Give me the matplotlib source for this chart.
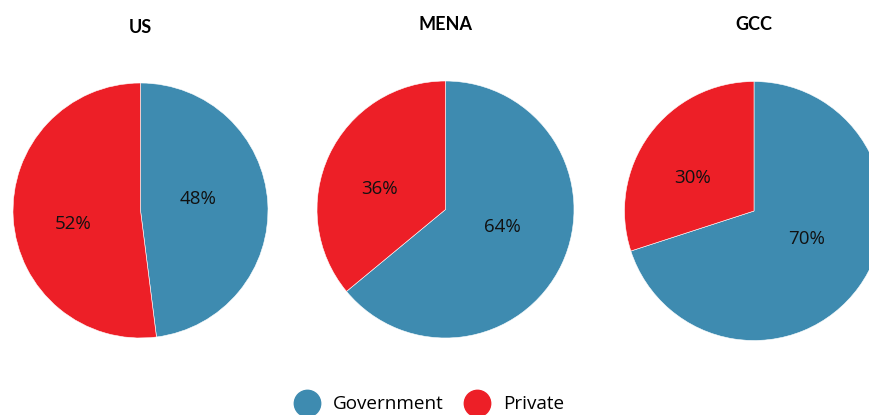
import numpy as np
import matplotlib.pyplot as plt
from matplotlib.lines import Line2D

regions = ['US', 'MENA', 'GCC']
government = [48, 64, 70]
private = [52, 36, 30]
labels = ['Government', 'Private']
colors = ['#3e8bb0', '#ed1f27']

# pie centres / radii in pixel units (y measured from top)
centers = [(140.5, 210.5), (445.5, 209.5), (754.0, 211.0)]
radii = [127.5, 128.5, 129.5]
title_y = [28, 25, 25]
label_dist = [0.46, 0.54]   # per series, fraction of radius
label_shift = 8.0           # degrees, labels sit a bit counter-clockwise of the wedge middle

W, H = 870, 415
fig = plt.figure(figsize=(W / 100, H / 100), dpi=100)
ax = fig.add_axes([0, 0, 1, 1])

for name, g, p, (cx, cy), r, ty in zip(regions, government, private, centers, radii, title_y):
    vals = [g, p]
    wedges, _ = ax.pie(vals, colors=colors, startangle=90, counterclock=False,
                       center=(cx, H - cy), radius=r, frame=False,
                       wedgeprops=dict(edgecolor='white', linewidth=0.4))
    for w, v, d in zip(wedges, vals, label_dist):
        ang = np.deg2rad((w.theta1 + w.theta2) / 2 + label_shift)
        ax.text(cx + d * r * np.cos(ang), H - cy + d * r * np.sin(ang), '%d%%' % v,
                ha='center', va='center', fontsize=13.5, family='Open Sans',
                color='#111111')
    ax.text(cx, H - ty, name, ha='center', va='center', fontsize=13,
            fontweight='bold', family='Lato')

ax.set_xlim(0, W)
ax.set_ylim(0, H)
ax.set_aspect('auto')
ax.axis('off')

handles = [Line2D([], [], marker='o', linestyle='', markersize=19,
                  markerfacecolor=c, markeredgecolor=c) for c in colors]
fig.legend(handles, labels, loc='center', bbox_to_anchor=(0.493, 0.026),
           ncol=2, frameon=False, handlelength=1.4, handletextpad=0.7,
           columnspacing=1.05, prop=dict(family='Open Sans', size=13.6))

fig.savefig('out.png', dpi=100)
